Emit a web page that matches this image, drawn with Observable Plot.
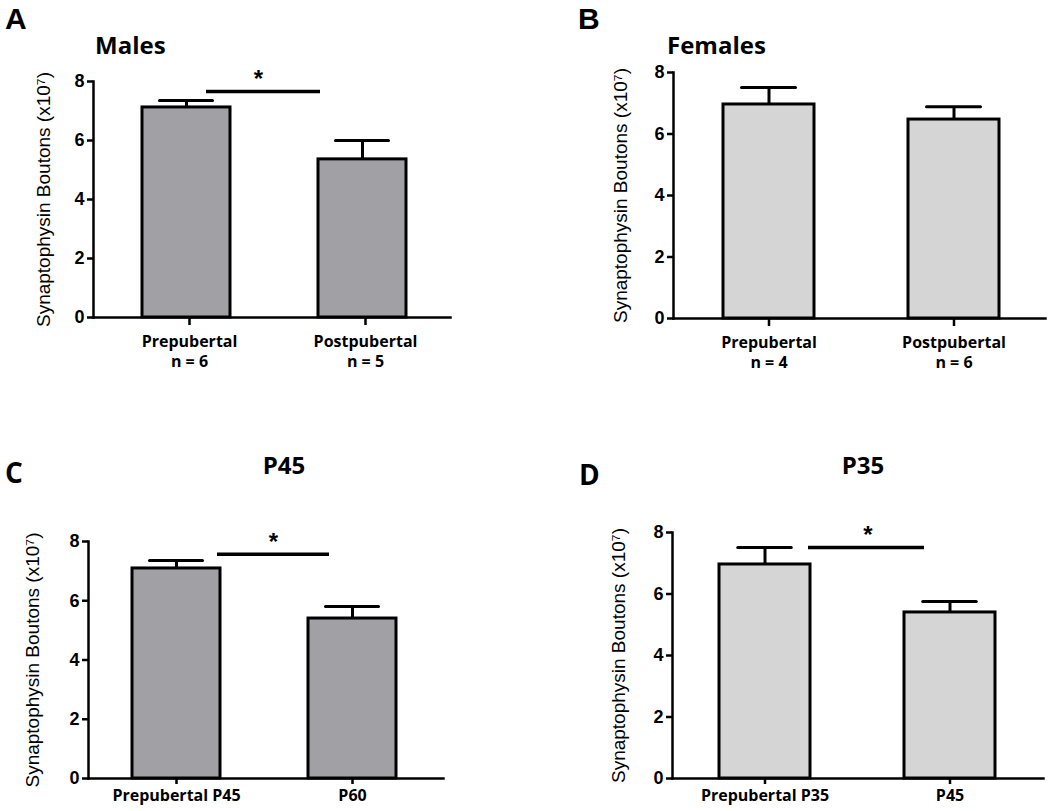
<!DOCTYPE html>
<html><head><meta charset="utf-8">
<script src="https://cdn.jsdelivr.net/npm/d3@7"></script>
<script src="https://cdn.jsdelivr.net/npm/@observablehq/plot@0.6"></script>
<style>
body{margin:0;background:#fff;}
#wrap{position:relative;width:1050px;height:811px;overflow:hidden;background:#fff;}
.panel{position:absolute;}
.letter{position:absolute;font-family:"Liberation Sans",Arial,sans-serif;font-weight:bold;font-size:30px;line-height:1;white-space:nowrap;}
.letter.ob{font-family:"Open Sans",sans-serif;font-size:28px;}
.title{position:absolute;font-family:"Open Sans",sans-serif;font-weight:bold;font-size:24px;line-height:1;white-space:nowrap;}
</style></head><body><div id="wrap"></div>
<script>
// ---- data ----
const yTicks = [0, 2, 4, 6, 8];
const yLabel = "Synaptophysin Boutons (x10\u2077)";

const groupsA = ["Prepubertal\nn = 6", "Postpubertal\nn = 5"];
const meansA = [7.12, 5.36];
const semA = [0.24, 0.64];
const sigA = 7.66;

const groupsB = ["Prepubertal\nn = 4", "Postpubertal\nn = 6"];
const meansB = [6.96, 6.47];
const semB = [0.55, 0.42];

const groupsC = ["Prepubertal P45", "P60"];
const meansC = [7.09, 5.40];
const semC = [0.27, 0.41];
const sigC = 7.57;

const groupsD = ["Prepubertal P35", "P45"];
const meansD = [6.96, 5.40];
const semD = [0.55, 0.36];
const sigD = 7.51;

const titles = ["Males", "Females", "P45", "P35"];
const letters = ["A", "B", "C", "D"];

// ---- layout ----
const dark = "#a1a1a5", light = "#d5d5d5";
const panels = [
  {groups: groupsA, means: meansA, sem: semA, sig: sigA, fill: dark,
   left: 0, top: 0, w: 525, h: 405, axisL: 93, axisR: 450, y8: 81, y0: 317, c1: 186, c2: 363, bw: 89,
   labelOff: 50, sigInL: 64, sigInR: 86, starDx: 72, xTick: 8, xPad: 7, xDx: 3,
   title: {x: 95, y: 33}, letter: {x: 5, y: 4, cls: ""}},
  {groups: groupsB, means: meansB, sem: semB, sig: null, fill: light,
   left: 525, top: 0, w: 525, h: 405, axisL: 148, axisR: 520, y8: 72, y0: 318, c1: 243.5, c2: 428.5, bw: 91,
   labelOff: 53, xTick: 8, xPad: 7, xDx: 0,
   title: {x: 142, y: 33}, letter: {x: 53, y: 4, cls: ""}},
  {groups: groupsC, means: meansC, sem: semC, sig: sigC, fill: dark,
   left: 0, top: 405, w: 525, h: 406, axisL: 88, axisR: 443, y8: 136, y0: 373, c1: 175.5, c2: 352.5, bw: 89,
   labelOff: 56, sigInL: 85, sigInR: 67, starDx: 97, xTick: 6, xPad: 2, xDx: 0,
   title: {x: 284, y: 48, center: true}, letter: {x: 5, y: 53, cls: "ob"}},
  {groups: groupsD, means: meansD, sem: semD, sig: sigD, fill: light,
   left: 525, top: 405, w: 525, h: 406, axisL: 147, axisR: 518, y8: 127, y0: 373, c1: 239.5, c2: 425, bw: 91.5,
   labelOff: 54, sigInL: 89, sigInR: 71, starDx: 103, xTick: 6, xPad: 2, xDx: 0,
   title: {x: 338, y: 48, center: true}, letter: {x: 54, y: 55, cls: "ob"}}
];

const wrap = document.getElementById("wrap");

panels.forEach((cfg, k) => {
  const data = cfg.groups.map((g, i) => ({g, m: cfg.means[i], e: cfg.means[i] + cfg.sem[i]}));
  const step = cfg.c2 - cfg.c1;
  const capInset = (cfg.bw - 54) / 2;
  const marks = [
    Plot.ruleX(data, {x: "g", y1: "m", y2: "e", strokeWidth: 3}),
    Plot.tickY(data, {x: "g", y: "e", strokeWidth: 3, insetLeft: capInset, insetRight: capInset, strokeLinecap: "round"}),
    Plot.barY(data, {x: "g", y: "m", fill: cfg.fill, stroke: "black", strokeWidth: 3}),
    Plot.frame({anchor: "left", strokeWidth: 2.5}),
    Plot.frame({anchor: "bottom", strokeWidth: 2.5}),
    Plot.axisY({ticks: yTicks, tickSize: 6, tickPadding: 3, fontSize: 18, fontWeight: "bold",
      fontFamily: "Liberation Sans, Arial, sans-serif", label: null, strokeWidth: 2.5}),
    Plot.axisX({tickSize: cfg.xTick, tickPadding: cfg.xPad, fontSize: 16, fontWeight: "bold", dx: cfg.xDx,
      fontFamily: "Open Sans, sans-serif", label: null, lineHeight: 1.25, strokeWidth: 2.5}),
    Plot.text([yLabel], {frameAnchor: "left", rotate: -90, dx: -cfg.labelOff, fontSize: 19,
      fontFamily: "Liberation Sans, Arial, sans-serif", lineAnchor: "middle", textAnchor: "middle"})
  ];
  if (cfg.sig != null) {
    const sigData = [{a: cfg.groups[0], b: cfg.groups[1], y: cfg.sig}];
    marks.push(Plot.ruleY(sigData, {x1: "a", x2: "b", y: "y", insetLeft: cfg.sigInL, insetRight: cfg.sigInR, strokeWidth: 3.5}));
    marks.push(Plot.text(sigData, {x: "a", y: "y", text: () => "*", dx: cfg.starDx, dy: -12, fontSize: 24,
      fontWeight: "bold", fontFamily: "Liberation Sans, Arial, sans-serif", lineAnchor: "middle"}));
  }
  const plot = Plot.plot({
    width: cfg.w, height: cfg.h,
    marginLeft: cfg.axisL, marginRight: cfg.w - cfg.axisR, marginTop: cfg.y8, marginBottom: cfg.h - cfg.y0,
    style: {background: "transparent", color: "black", fontFamily: "Liberation Sans, Arial, sans-serif", overflow: "visible"},
    x: {domain: cfg.groups, range: [cfg.c1 - cfg.bw / 2, cfg.c2 + cfg.bw / 2], paddingInner: 1 - cfg.bw / step, paddingOuter: 0},
    y: {domain: [0, 8]},
    marks
  });
  const div = document.createElement("div");
  div.className = "panel";
  div.style.left = cfg.left + "px";
  div.style.top = cfg.top + "px";
  div.appendChild(plot);
  wrap.appendChild(div);

  const t = document.createElement("div");
  t.className = "title";
  t.textContent = titles[k];
  t.style.left = (cfg.left + cfg.title.x) + "px";
  t.style.top = (cfg.top + cfg.title.y) + "px";
  if (cfg.title.center) t.style.transform = "translateX(-50%)";
  wrap.appendChild(t);

  const l = document.createElement("div");
  l.className = "letter " + cfg.letter.cls;
  l.textContent = letters[k];
  l.style.left = (cfg.left + cfg.letter.x) + "px";
  l.style.top = (cfg.top + cfg.letter.y) + "px";
  wrap.appendChild(l);
});
</script>
</body></html>
